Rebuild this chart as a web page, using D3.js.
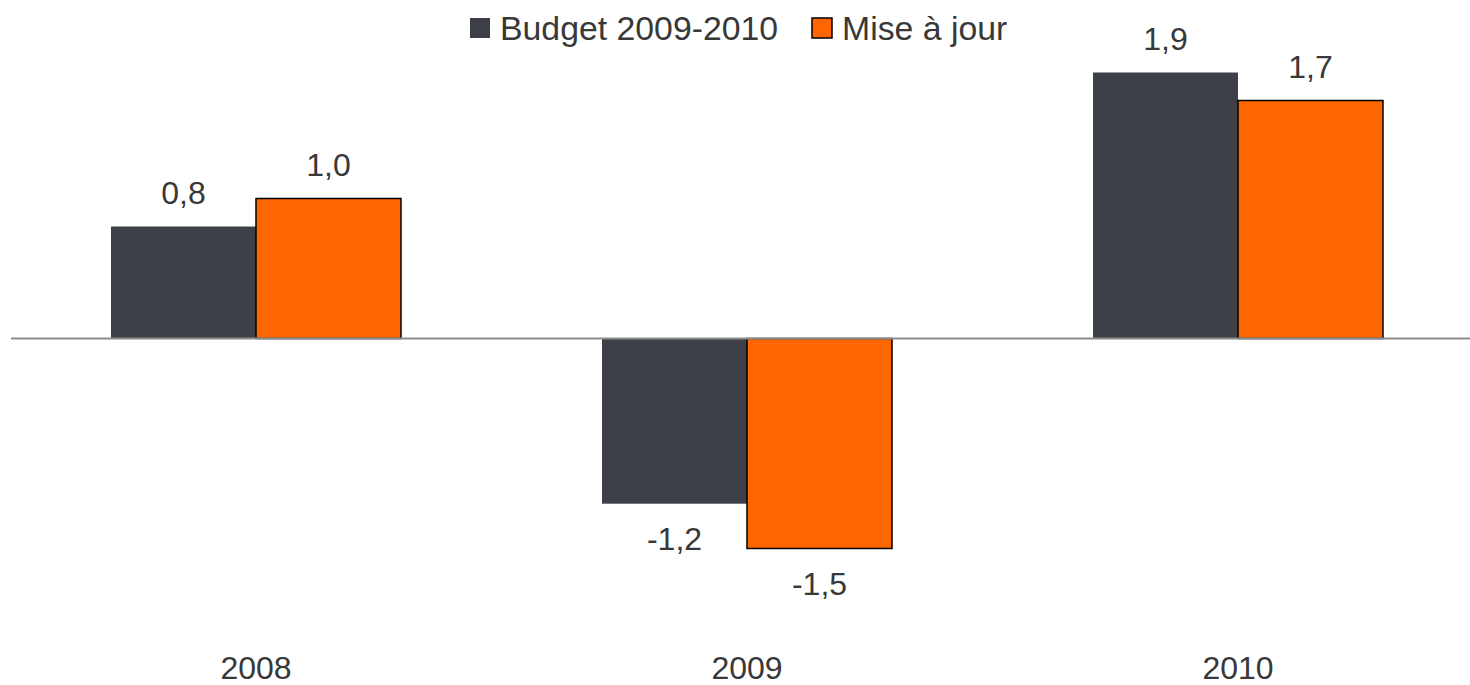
<!DOCTYPE html>
<html>
<head>
<meta charset="utf-8">
<script src="https://cdn.jsdelivr.net/npm/d3@7"></script>
<style>
  body { margin: 0; background: #fff; }
  text { font-family: "Liberation Sans", Arial, sans-serif; fill: #383838; }
</style>
</head>
<body>
<div class="chart"></div>
<script>
// Data
var years = ["2008", "2009", "2010"];
var seriesNames = ["Budget 2009-2010", "Mise à jour"];
var budget = [0.8, -1.18, 1.9];
var miseAJour = [1.0, -1.5, 1.7];
var colors = ["#3d4047", "#ff6600"];

var svgWidth = 1470;
var svgHeight = 685;

var svg = d3.select(".chart")
  .append("svg")
  .attr("width", svgWidth)
  .attr("height", svgHeight);

// Scales
var xScale = d3.scaleBand()
  .domain(years)
  .range([10.5, 1483.5])
  .paddingInner(0.4094)
  .paddingOuter(0.2047);

var xSub = d3.scaleBand()
  .domain(seriesNames)
  .range([0, xScale.bandwidth()]);

var yScale = d3.scaleLinear()
  .domain([-2, 2])
  .range([618.5, 58.5]);

var fmt = v => v.toFixed(1).replace(".", ",");

var rows = [];
years.forEach((yr, i) => {
  rows.push({year: yr, series: seriesNames[0], value: budget[i], color: colors[0]});
  rows.push({year: yr, series: seriesNames[1], value: miseAJour[i], color: colors[1]});
});

// Bars
svg.selectAll("rect.bar")
  .data(rows)
  .enter()
  .append("rect")
  .attr("class", "bar")
  .attr("x", d => xScale(d.year) + xSub(d.series))
  .attr("width", xSub.bandwidth())
  .attr("y", d => yScale(Math.max(0, d.value)))
  .attr("height", d => Math.abs(yScale(d.value) - yScale(0)))
  .attr("fill", d => d.color)
  .attr("stroke", d => d.series == seriesNames[1] ? "#000" : "none")
  .attr("stroke-width", 1.5);

// Zero line
svg.append("line")
  .attr("x1", 11)
  .attr("x2", svgWidth)
  .attr("y1", yScale(0))
  .attr("y2", yScale(0))
  .attr("stroke", "#8c8c8c")
  .attr("stroke-width", 2);

// Value labels
svg.selectAll("text.value")
  .data(rows)
  .enter()
  .append("text")
  .attr("class", "value")
  .attr("x", d => xScale(d.year) + xSub(d.series) + xSub.bandwidth() / 2)
  .attr("y", d => d.value >= 0 ? yScale(d.value) - 23 : yScale(d.value) + 46)
  .attr("text-anchor", "middle")
  .style("font-size", "32px")
  .text(d => fmt(d.value));

// Category labels
svg.selectAll("text.cat")
  .data(years)
  .enter()
  .append("text")
  .attr("class", "cat")
  .attr("x", d => xScale(d) + xScale.bandwidth() / 2)
  .attr("y", 679)
  .attr("text-anchor", "middle")
  .style("font-size", "32px")
  .text(d => d);

// Legend
var legendX = [470, 812];
var legend = svg.selectAll("g.legend")
  .data(seriesNames)
  .enter()
  .append("g")
  .attr("class", "legend")
  .attr("transform", (d, i) => `translate(${legendX[i]}, 18)`);
legend.append("rect")
  .attr("width", 20)
  .attr("height", 20)
  .attr("fill", (d, i) => colors[i])
  .attr("stroke", (d, i) => i == 1 ? "#000" : "none")
  .attr("stroke-width", 1.5);
legend.append("text")
  .attr("x", 30)
  .attr("y", 22)
  .style("font-size", "33.8px")
  .text(d => d);
</script>
</body>
</html>
